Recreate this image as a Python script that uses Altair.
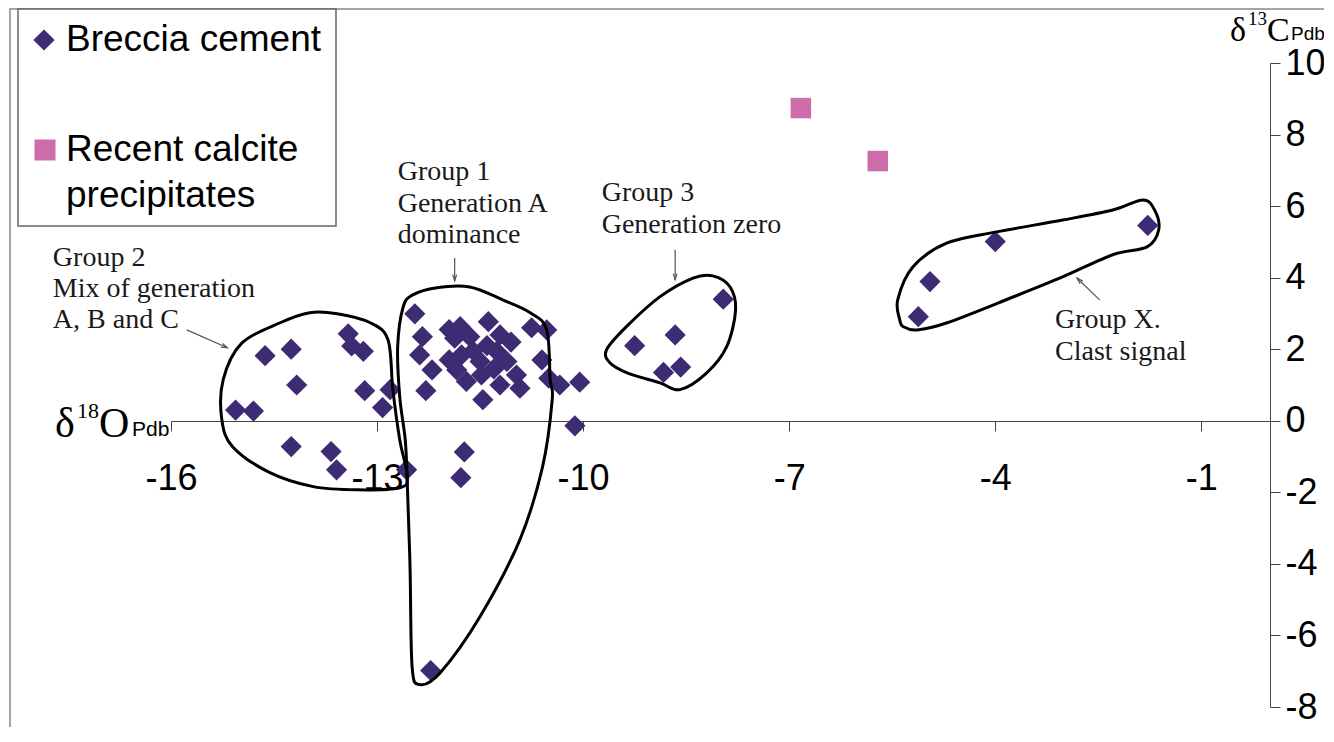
import altair as alt
import pandas as pd

# ---------------- data (per mil, PDB) ----------------
# Breccia cement, by visual cluster
g2_d18O = [-15.06, -14.80, -14.63, -14.25, -14.17, -14.25, -13.67, -13.59, -13.42, -13.37,
           -13.20, -13.18, -12.81, -12.92, -12.57]
g2_d13C = [0.30, 0.27, 1.82, 2.00, 1.00, -0.72, -0.86, -1.37, 2.43, 2.09,
           1.94, 0.84, 0.87, 0.37, -1.37]
g1_d18O = [-12.45, -12.34, -12.38, -12.20, -12.29, -11.79, -11.87, -11.65, -11.38, -11.21,
           -11.77, -11.84, -11.50, -11.48, -11.70, -11.26, -11.11, -10.97, -11.21, -10.92,
           -11.46, -10.75, -10.53, -10.60, -10.50, -10.34, -10.05, -10.12, -11.73, -11.78,
           -12.22, -11.05, -11.40, -11.95, -11.60, -11.30, -11.95]
g1_d13C = [2.99, 2.35, 1.84, 1.42, 0.84, 2.63, 2.31, 2.35, 2.77, 2.40,
           1.84, 1.42, 1.66, 1.28, 1.10, 1.94, 1.66, 1.28, 1.00, 0.91,
           0.59, 2.60, 2.54, 1.70, 1.19, 1.00, 1.08, -0.14, -0.87, -1.59,
           -6.98, 2.20, 2.10, 2.55, 1.95, 1.45, 1.70]
g3_d18O = [-7.96, -8.66, -9.25, -8.83, -8.58]
g3_d13C = [3.40, 2.40, 2.10, 1.35, 1.50]
gx_d18O = [-1.78, -4.00, -4.95, -5.12]
gx_d13C = [5.46, 5.01, 3.89, 2.91]

# Recent calcite precipitates
recent_d18O = [-6.83, -5.71]
recent_d13C = [8.74, 7.26]

x_ticks = [-16, -13, -10, -7, -4, -1]
y_ticks = [-8, -6, -4, -2, 0, 2, 4, 6, 8, 10]

# hand-drawn group envelopes (data units)
env_g2_x = [-14.97, -14.41, -13.98, -13.58, -13.10, -12.84, -12.77, -12.67, -12.56, -12.67,
            -13.29, -13.93, -14.56, -15.10, -15.26, -15.24]
env_g2_y = [2.17, 2.74, 3.02, 2.99, 2.74, 2.26, 0.87, -0.53, -1.56, -1.87,
            -1.93, -1.84, -1.45, -0.73, 0.03, 1.15]
env_g1_x = [-12.62, -12.48, -12.13, -11.65, -11.17, -10.77, -10.53, -10.48, -10.45, -10.59,
            -10.92, -11.50, -12.08, -12.38, -12.49, -12.52, -12.56, -12.59, -12.67, -12.70]
env_g1_y = [3.18, 3.52, 3.72, 3.74, 3.38, 3.02, 2.54, 1.15, 0.59, -1.28,
            -3.32, -5.47, -7.04, -7.37, -6.87, -4.08, -1.73, -0.53, 0.67, 2.07]
env_g3_x = [-9.66, -9.37, -8.88, -8.40, -8.11, -7.86, -7.78, -7.91, -8.20, -8.59, -8.88, -9.36, -9.61]
env_g3_y = [1.98, 2.63, 3.47, 3.99, 4.05, 3.74, 3.10, 2.07, 1.34, 0.87, 1.06, 1.34, 1.62]
env_gx_x = [-5.39, -5.42, -5.20, -4.70, -3.98, -3.02, -2.29, -1.85, -1.68, -1.62,
            -1.79, -2.29, -3.02, -3.74, -4.70, -5.14, -5.34]
env_gx_y = [2.82, 3.38, 4.30, 4.97, 5.28, 5.61, 5.89, 6.17, 5.89, 5.34,
            4.86, 4.64, 4.02, 3.46, 2.74, 2.54, 2.63]

# annotation labels (data units, left edge / line centre)
ann_text = ["Group 2", "Mix of generation", "A, B and C",
            "Group 1", "Generation A", "dominance",
            "Group 3", "Generation zero",
            "Group X.", "Clast signal"]
ann_x = [-17.72, -17.72, -17.72, -12.70, -12.70, -12.70, -9.73, -9.73, -3.13, -3.13]
ann_y = [4.55, 3.69, 2.82, 6.95, 6.07, 5.19, 6.38, 5.47, 2.82, 1.93]

# arrows: tail -> head, and head direction (degrees clockwise from up)
arr_x = [-15.77, -11.87, -8.66, -2.48]
arr_y = [2.54, 4.55, 4.78, 3.38]
arr_x2 = [-15.18, -11.87, -8.66, -2.81]
arr_y2 = [2.04, 3.91, 3.94, 3.99]
arr_dir = [114, 180, 180, 314]

# ---------------- build tables ----------------
breccia = pd.DataFrame({"d18O": g2_d18O + g1_d18O + g3_d18O + gx_d18O,
                        "d13C": g2_d13C + g1_d13C + g3_d13C + gx_d13C})
recent = pd.DataFrame({"d18O": recent_d18O, "d13C": recent_d13C})

env_rows = []
for name, xs, ys in [("g2", env_g2_x, env_g2_y), ("g1", env_g1_x, env_g1_y),
                     ("g3", env_g3_x, env_g3_y), ("gx", env_gx_x, env_gx_y)]:
    for i, (a, b) in enumerate(zip(xs, ys)):
        env_rows.append({"grp": name, "i": i, "d18O": a, "d13C": b})
env = pd.DataFrame(env_rows)
ann = pd.DataFrame({"t": ann_text, "d18O": ann_x, "d13C": ann_y})
arrows = pd.DataFrame({"d18O": arr_x, "d13C": arr_y, "x2": arr_x2, "y2": arr_y2, "ang": arr_dir})

PURPLE = "#3D2B73"
PINK = "#CC6CA8"
SANS = "Liberation Sans"
SERIF = "Liberation Serif"

xscale = alt.Scale(domain=[-16, 0], nice=False, zero=False)
yscale = alt.Scale(domain=[-8, 10], nice=False, zero=False)
xaxis = alt.Axis(values=x_ticks, orient="bottom", offset=-286, title=None, grid=False,
                 domainColor="#444", tickColor="#444", tickSize=10, domainWidth=1,
                 labelFont=SANS, labelFontSize=36, labelColor="black", labelPadding=30,
                 labelFlush=False, labelOverlap=False, labelExpr="'' + datum.value")
yaxis = alt.Axis(values=y_ticks, orient="right", title=None, grid=False,
                 domainColor="#444", tickColor="#444", tickSize=10, domainWidth=1,
                 labelFont=SANS, labelFontSize=36, labelColor="black", labelPadding=5,
                 labelFlush=False, labelOverlap=False, labelExpr="'' + datum.value")


def X(f="d18O"):
    return alt.X(f"{f}:Q", scale=xscale, axis=xaxis)


def Y(f="d13C"):
    return alt.Y(f"{f}:Q", scale=yscale, axis=yaxis)


one = pd.DataFrame({"k": [0]})

# chart frame and legend box (pixel positions relative to the plot area)
frame = alt.Chart(one).mark_rect(fill=None, stroke="#888", strokeWidth=1.5).encode(
    x=alt.value(-161), x2=alt.value(1300), y=alt.value(-54), y2=alt.value(760))
legend_box = alt.Chart(one).mark_rect(fill="white", stroke="#666", strokeWidth=1.5).encode(
    x=alt.value(-153), x2=alt.value(165), y=alt.value(-54), y2=alt.value(163))
leg_dia = alt.Chart(one).mark_point(shape="diamond", filled=True, size=450, color=PURPLE,
                                     opacity=1, strokeWidth=0).encode(
    x=alt.value(-127), y=alt.value(-23))
leg_sq = alt.Chart(one).mark_point(shape="square", filled=True, size=440, color=PINK,
                                    opacity=1, strokeWidth=0).encode(
    x=alt.value(-126), y=alt.value(87))


def label(txt, px, py, size, font, baseline="middle"):
    return alt.Chart(one).mark_text(text=txt, font=font, fontSize=size, align="left",
                                    baseline=baseline, color="black").encode(
        x=alt.value(px), y=alt.value(py))


leg_t1 = label("Breccia cement", -105, -23, 37, SANS)
leg_t2 = label("Recent calcite", -105, 87, 37, SANS)
leg_t3 = label("precipitates", -105, 133, 37, SANS)

# axis-name labels: δ18O Pdb and δ13C Pdb
xt = [label("δ", -116, 374, 42, SERIF, "alphabetic"),
      label("18", -94, 355, 22, SERIF, "alphabetic"),
      label("O", -72, 374, 42, SERIF, "alphabetic"),
      label("Pdb", -39, 373, 21, SANS, "alphabetic")]
yt = [label("δ", 1059, -22, 34, SERIF, "alphabetic"),
      label("13", 1077, -38, 19, SERIF, "alphabetic"),
      label("C", 1096, -22, 34, SERIF, "alphabetic"),
      label("Pdb", 1120, -23, 19, SANS, "alphabetic")]

pts_b = alt.Chart(breccia).mark_point(shape="diamond", filled=True, size=450, color=PURPLE,
                                      opacity=1, strokeWidth=0).encode(x=X(), y=Y())
pts_r = alt.Chart(recent).mark_point(shape="square", filled=True, size=420, color=PINK,
                                     opacity=1, strokeWidth=0).encode(x=X(), y=Y())
env_lines = alt.Chart(env).mark_line(interpolate="cardinal-closed", color="black",
                                     strokeWidth=3).encode(
    x=X(), y=Y(), detail="grp:N", order="i:Q")
ann_txt = alt.Chart(ann).mark_text(font=SERIF, fontSize=28, align="left", baseline="middle",
                                   color="#1a1a1a").encode(x=X(), y=Y(), text="t:N")
arr_lines = alt.Chart(arrows).mark_rule(color="#555", strokeWidth=1.2).encode(
    x=X(), y=Y(), x2="x2:Q", y2="y2:Q")
arr_heads = alt.Chart(arrows).mark_point(shape="M-0.5,1.6L0,0L0.5,1.6", filled=False,
                                         color="#555", size=60, strokeWidth=1.2, opacity=1).encode(
    x=alt.X("x2:Q", scale=xscale, axis=xaxis), y=alt.Y("y2:Q", scale=yscale, axis=yaxis),
    angle=alt.Angle("ang:Q", scale=None))

chart = alt.layer(
    frame, legend_box, leg_dia, leg_sq, leg_t1, leg_t2, leg_t3, *xt, *yt,
    pts_b, pts_r, env_lines, arr_lines, arr_heads, ann_txt
).properties(
    width=1099, height=644,
    autosize=alt.AutoSizeParams(type="none"),
    padding={"left": 163, "top": 55, "right": 54, "bottom": 20},
    background="white",
).configure_view(stroke=None)

chart.save("out.html", embed_options={"renderer": "svg", "actions": False})
